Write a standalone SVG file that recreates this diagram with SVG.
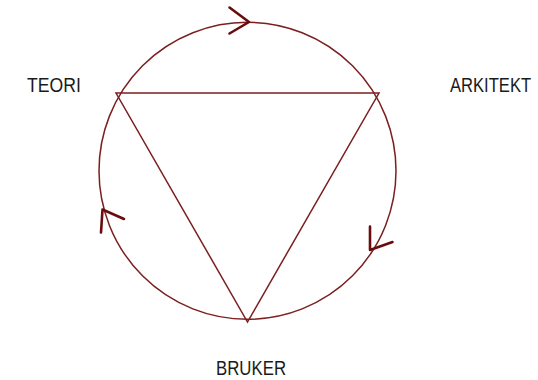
<svg xmlns="http://www.w3.org/2000/svg" width="538" height="380" viewBox="0 0 538 380">
<style>
.ln{fill:none;stroke:#7b1f1f;stroke-width:1.5}
.ah{fill:none;stroke:#6a0c0c;stroke-width:2.6;stroke-linecap:round;stroke-linejoin:round}
.lbl{font-family:"Liberation Sans",Arial,sans-serif;font-size:20.5px;fill:#1a1a1a}
</style>
<rect width="538" height="380" fill="#ffffff"/>
<g id="connectors">
<circle class="ln" cx="247.5" cy="170.8" r="148.5"/>
<polygon class="ln" points="116,93 379,93 247.5,322"/>
<polyline class="ah" points="229.5,7.5 249,22 229.5,33.5"/>
<polyline class="ah" points="370,226.5 370,250 392.5,242"/>
<polyline class="ah" points="101,232.5 102.5,209.5 124,219"/>
</g>
<g id="teori"><text class="lbl" transform="translate(27 92) scale(0.86 1)">TEORI</text></g>
<g id="arkitekt"><text class="lbl" transform="translate(450 92) scale(0.81 1)">ARKITEKT</text></g>
<g id="bruker"><text class="lbl" transform="translate(216 375) scale(0.82 1)">BRUKER</text></g>
</svg>
